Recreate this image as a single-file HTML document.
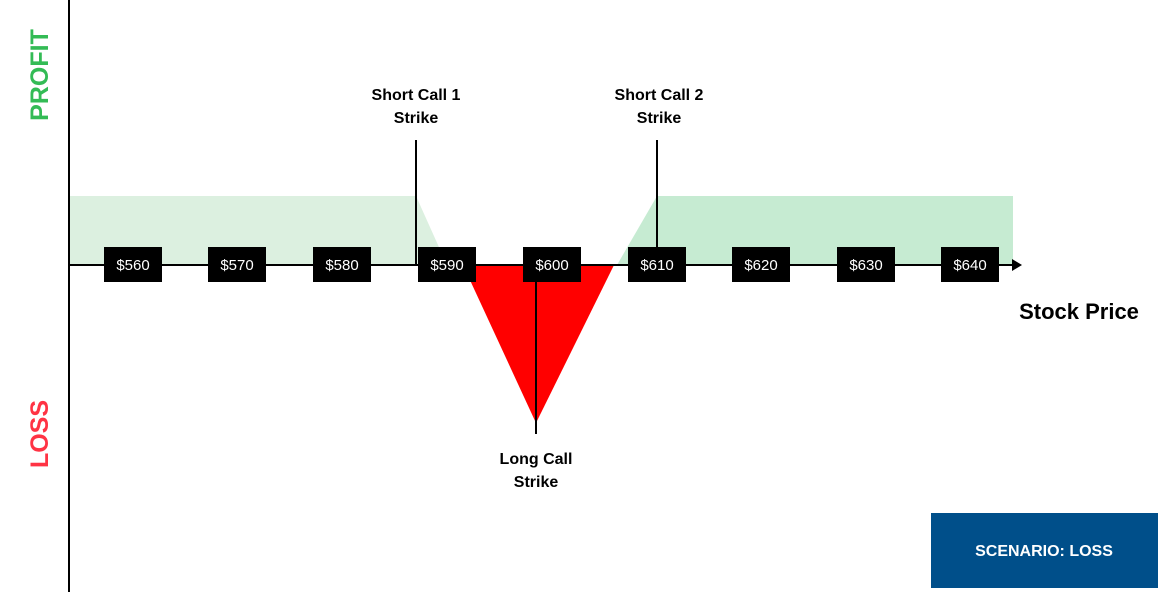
<!DOCTYPE html>
<html><head><meta charset="utf-8"><style>
body{margin:0;width:1162px;height:592px;background:#fff;overflow:hidden;font-family:"Liberation Sans",sans-serif}
</style></head><body>
<svg width="1162" height="592" xmlns="http://www.w3.org/2000/svg" font-family="Liberation Sans, sans-serif">
<polygon points="70,196 416,196 447,265 70,265" fill="#dcf0e0"/>
<polygon points="657,196 1013,196 1013,265 617,265" fill="#c6ebd2"/>
<polygon points="463,265 614,265 536,423" fill="#ff0000"/>
<line x1="69" y1="0" x2="69" y2="592" stroke="#000" stroke-width="2"/>
<line x1="69" y1="265" x2="1014" y2="265" stroke="#000" stroke-width="2"/>
<polygon points="1022,265 1012,259 1012,271" fill="#000"/>
<line x1="416" y1="140" x2="416" y2="265" stroke="#000" stroke-width="2"/>
<line x1="657" y1="140" x2="657" y2="265" stroke="#000" stroke-width="2"/>
<line x1="536" y1="282" x2="536" y2="434" stroke="#000" stroke-width="2"/>
<g font-size="15" fill="#fff" text-anchor="middle">
<rect x="104" y="247" width="58" height="35" fill="#000"/><text x="133" y="270">$560</text>
<rect x="208" y="247" width="58" height="35" fill="#000"/><text x="237" y="270">$570</text>
<rect x="313" y="247" width="58" height="35" fill="#000"/><text x="342" y="270">$580</text>
<rect x="418" y="247" width="58" height="35" fill="#000"/><text x="447" y="270">$590</text>
<rect x="523" y="247" width="58" height="35" fill="#000"/><text x="552" y="270">$600</text>
<rect x="628" y="247" width="58" height="35" fill="#000"/><text x="657" y="270">$610</text>
<rect x="732" y="247" width="58" height="35" fill="#000"/><text x="761" y="270">$620</text>
<rect x="837" y="247" width="58" height="35" fill="#000"/><text x="866" y="270">$630</text>
<rect x="941" y="247" width="58" height="35" fill="#000"/><text x="970" y="270">$640</text>
</g>
<g font-size="16" font-weight="bold" fill="#000" text-anchor="middle">
<text x="416" y="100">Short Call 1</text><text x="416" y="123">Strike</text>
<text x="659" y="100">Short Call 2</text><text x="659" y="123">Strike</text>
<text x="536" y="464">Long Call</text><text x="536" y="487">Strike</text>
</g>
<text x="1079" y="319" font-size="22" font-weight="bold" text-anchor="middle">Stock Price</text>
<text transform="translate(48,75) rotate(-90)" font-size="25" font-weight="bold" fill="#33bb55" text-anchor="middle">PROFIT</text>
<text transform="translate(48,434) rotate(-90)" font-size="25" font-weight="bold" fill="#ff3344" text-anchor="middle">LOSS</text>
<rect x="931" y="513" width="227" height="75" fill="#004f8a"/>
<text x="1044" y="556" font-size="16" font-weight="bold" fill="#fff" text-anchor="middle">SCENARIO: LOSS</text>
</svg>
</body></html>
